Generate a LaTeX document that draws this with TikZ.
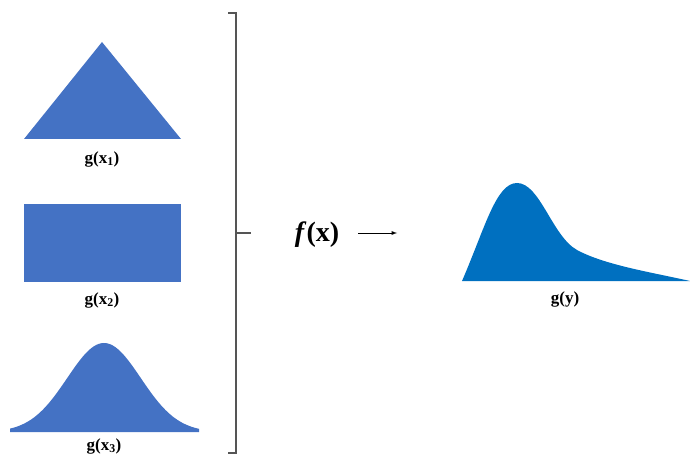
\documentclass[tikz,border=0pt]{standalone}
\usepackage{fontspec}
\setmainfont{Liberation Serif}
\definecolor{shapeblue}{HTML}{4472C4}
\definecolor{outblue}{HTML}{0070C0}
\definecolor{brk}{HTML}{555555}
\begin{document}
\begin{tikzpicture}[x=1pt,y=-1pt,
  lbl/.style={font=\bfseries\fontsize{17}{19}\selectfont, inner sep=0pt},
  brkline/.style={draw=brk, line width=1.2pt},
  arr/.style={draw=black, line width=0.9pt, -latex}]
\useasboundingbox (0,0) rectangle (690,457);
% triangle
\fill[shapeblue] (24,139) -- (102,42) -- (181,139) -- cycle;
\node[lbl] (l1) at (102,159) {g(x\textsubscript{1})};
% rectangle
\fill[shapeblue] (24,204) rectangle (181,282);
\node[lbl] (l2) at (102,300) {g(x\textsubscript{2})};
% bell
\fill[shapeblue] (10,432) -- plot[domain=10:199, samples=80, smooth] (\x, {432-89*exp(-((\x-104)/52)^2)}) -- (199,432) -- cycle;
\node[lbl] (l3) at (104,446) {g(x\textsubscript{3})};
% bracket
\draw[brkline] (228,13) -- (236,13) -- (236,453) -- (228,453);
\coordinate (bm) at (236,233);
\coordinate (bt) at (251,233);
\draw[brkline] (bm) -- (bt);
% f(x)
\node[font=\bfseries\fontsize{28}{30}\selectfont, inner sep=0pt] (fx) at (317,235) {\textit{f}(x)};
\coordinate (a1) at (358,233);
\coordinate (a2) at (397,233);
\draw[arr] (a1) -- (a2);
% skewed output
\fill[outblue] (462,281) .. controls (485,228) and (496,183) .. (517,183)
  .. controls (540,183) and (552,236) .. (577,250)
  .. controls (605,265) and (650,272) .. (690,281) -- cycle;
\node[lbl] (ly) at (565,299) {g(y)};
\end{tikzpicture}
\end{document}
